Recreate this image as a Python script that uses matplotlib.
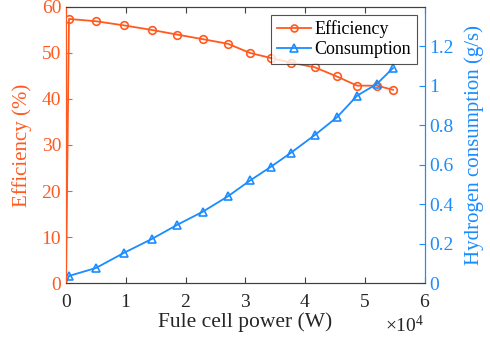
import matplotlib.pyplot as plt
from matplotlib.lines import Line2D

plt.rcParams["font.family"] = ["Liberation Serif", "DejaVu Serif"]
plt.rcParams["mathtext.fontset"] = "custom"
plt.rcParams["mathtext.rm"] = "Liberation Serif"
plt.rcParams["mathtext.it"] = "Liberation Serif:italic"

ORANGE = "#FF5A1F"
BLUE = "#1A8CFF"
GRAY = "#404040"

# fuel cell power (W), first point is the origin
power = [0, 500, 5000, 9700, 14400, 18600, 22900, 27100, 30800, 34300,
         37600, 41600, 45300, 48700, 52000, 54700]
efficiency = [0, 57.4, 56.9, 56.0, 55.0, 54.0, 53.0, 52.0, 50.0, 48.9,
              47.9, 46.9, 44.9, 42.9, 42.9, 42.0]
consumption = [0, 0.036, 0.076, 0.153, 0.224, 0.295, 0.362, 0.44, 0.52, 0.59,
               0.66, 0.75, 0.84, 0.95, 1.01, 1.09]

fig = plt.figure(figsize=(4.9, 3.44), dpi=100)
ax = fig.add_axes([0.1347, 0.1773, 0.732, 0.8024])
ax2 = ax.twinx()

mk = list(range(1, len(power)))
ax.plot(power, efficiency, color=ORANGE, lw=1.3, marker="o", ms=5.5,
        mfc="none", mew=1.2, markevery=mk)
ax2.plot(power, consumption, color=BLUE, lw=1.3, marker="^", ms=6,
         mfc="none", mew=1.2, markevery=mk)

ax.set_xlim(0, 60000)
ax.set_ylim(0, 60)
ax2.set_ylim(0, 1.4)
ax.set_xticks(range(0, 60001, 10000))
ax.set_yticks(range(0, 61, 10))
ax2.set_yticks([0, 0.2, 0.4, 0.6, 0.8, 1.0, 1.2])
ax2.set_yticklabels(["0", "0.2", "0.4", "0.6", "0.8", "1", "1.2"])
ax.ticklabel_format(axis="x", style="sci", scilimits=(0, 0), useMathText=True)

ax.tick_params(axis="x", direction="in", top=True, colors=GRAY, labelsize=14,
               labelcolor="#262626", length=4, pad=8)
ax.tick_params(axis="y", direction="in", colors=ORANGE, labelsize=14, length=4)
ax2.tick_params(axis="y", direction="in", colors=BLUE, labelsize=14, length=4)
ax.xaxis.get_offset_text().set_fontsize(14)
ax.xaxis.get_offset_text().set_color("#262626")

for a in (ax, ax2):
    a.spines["top"].set_color(GRAY)
    a.spines["bottom"].set_color(GRAY)
    a.spines["left"].set_color(ORANGE)
    a.spines["right"].set_color(BLUE)

ax.set_xlabel("Fule cell power (W)", fontsize=15.5, color="#262626", labelpad=1)
ax.set_ylabel("Efficiency (%)", fontsize=15, color=ORANGE, labelpad=7)
ax2.set_ylabel("Hydrogen consumption (g/s)", fontsize=15, color=BLUE, labelpad=7)

handles = [
    Line2D([], [], color=ORANGE, lw=1.3, marker="o", ms=5, mfc="none", mew=1.2),
    Line2D([], [], color=BLUE, lw=1.3, marker="^", ms=5.5, mfc="none", mew=1.2),
]
leg = ax2.legend(handles, ["Efficiency", "Consumption"], loc="upper right",
                 fontsize=13, frameon=True, fancybox=False, edgecolor="#262626",
                 borderpad=0.3, labelspacing=0.15, handlelength=1.9,
                 handletextpad=0.2, borderaxespad=0.45)
leg.get_frame().set_linewidth(0.8)

fig.savefig("out.png", dpi=100)
